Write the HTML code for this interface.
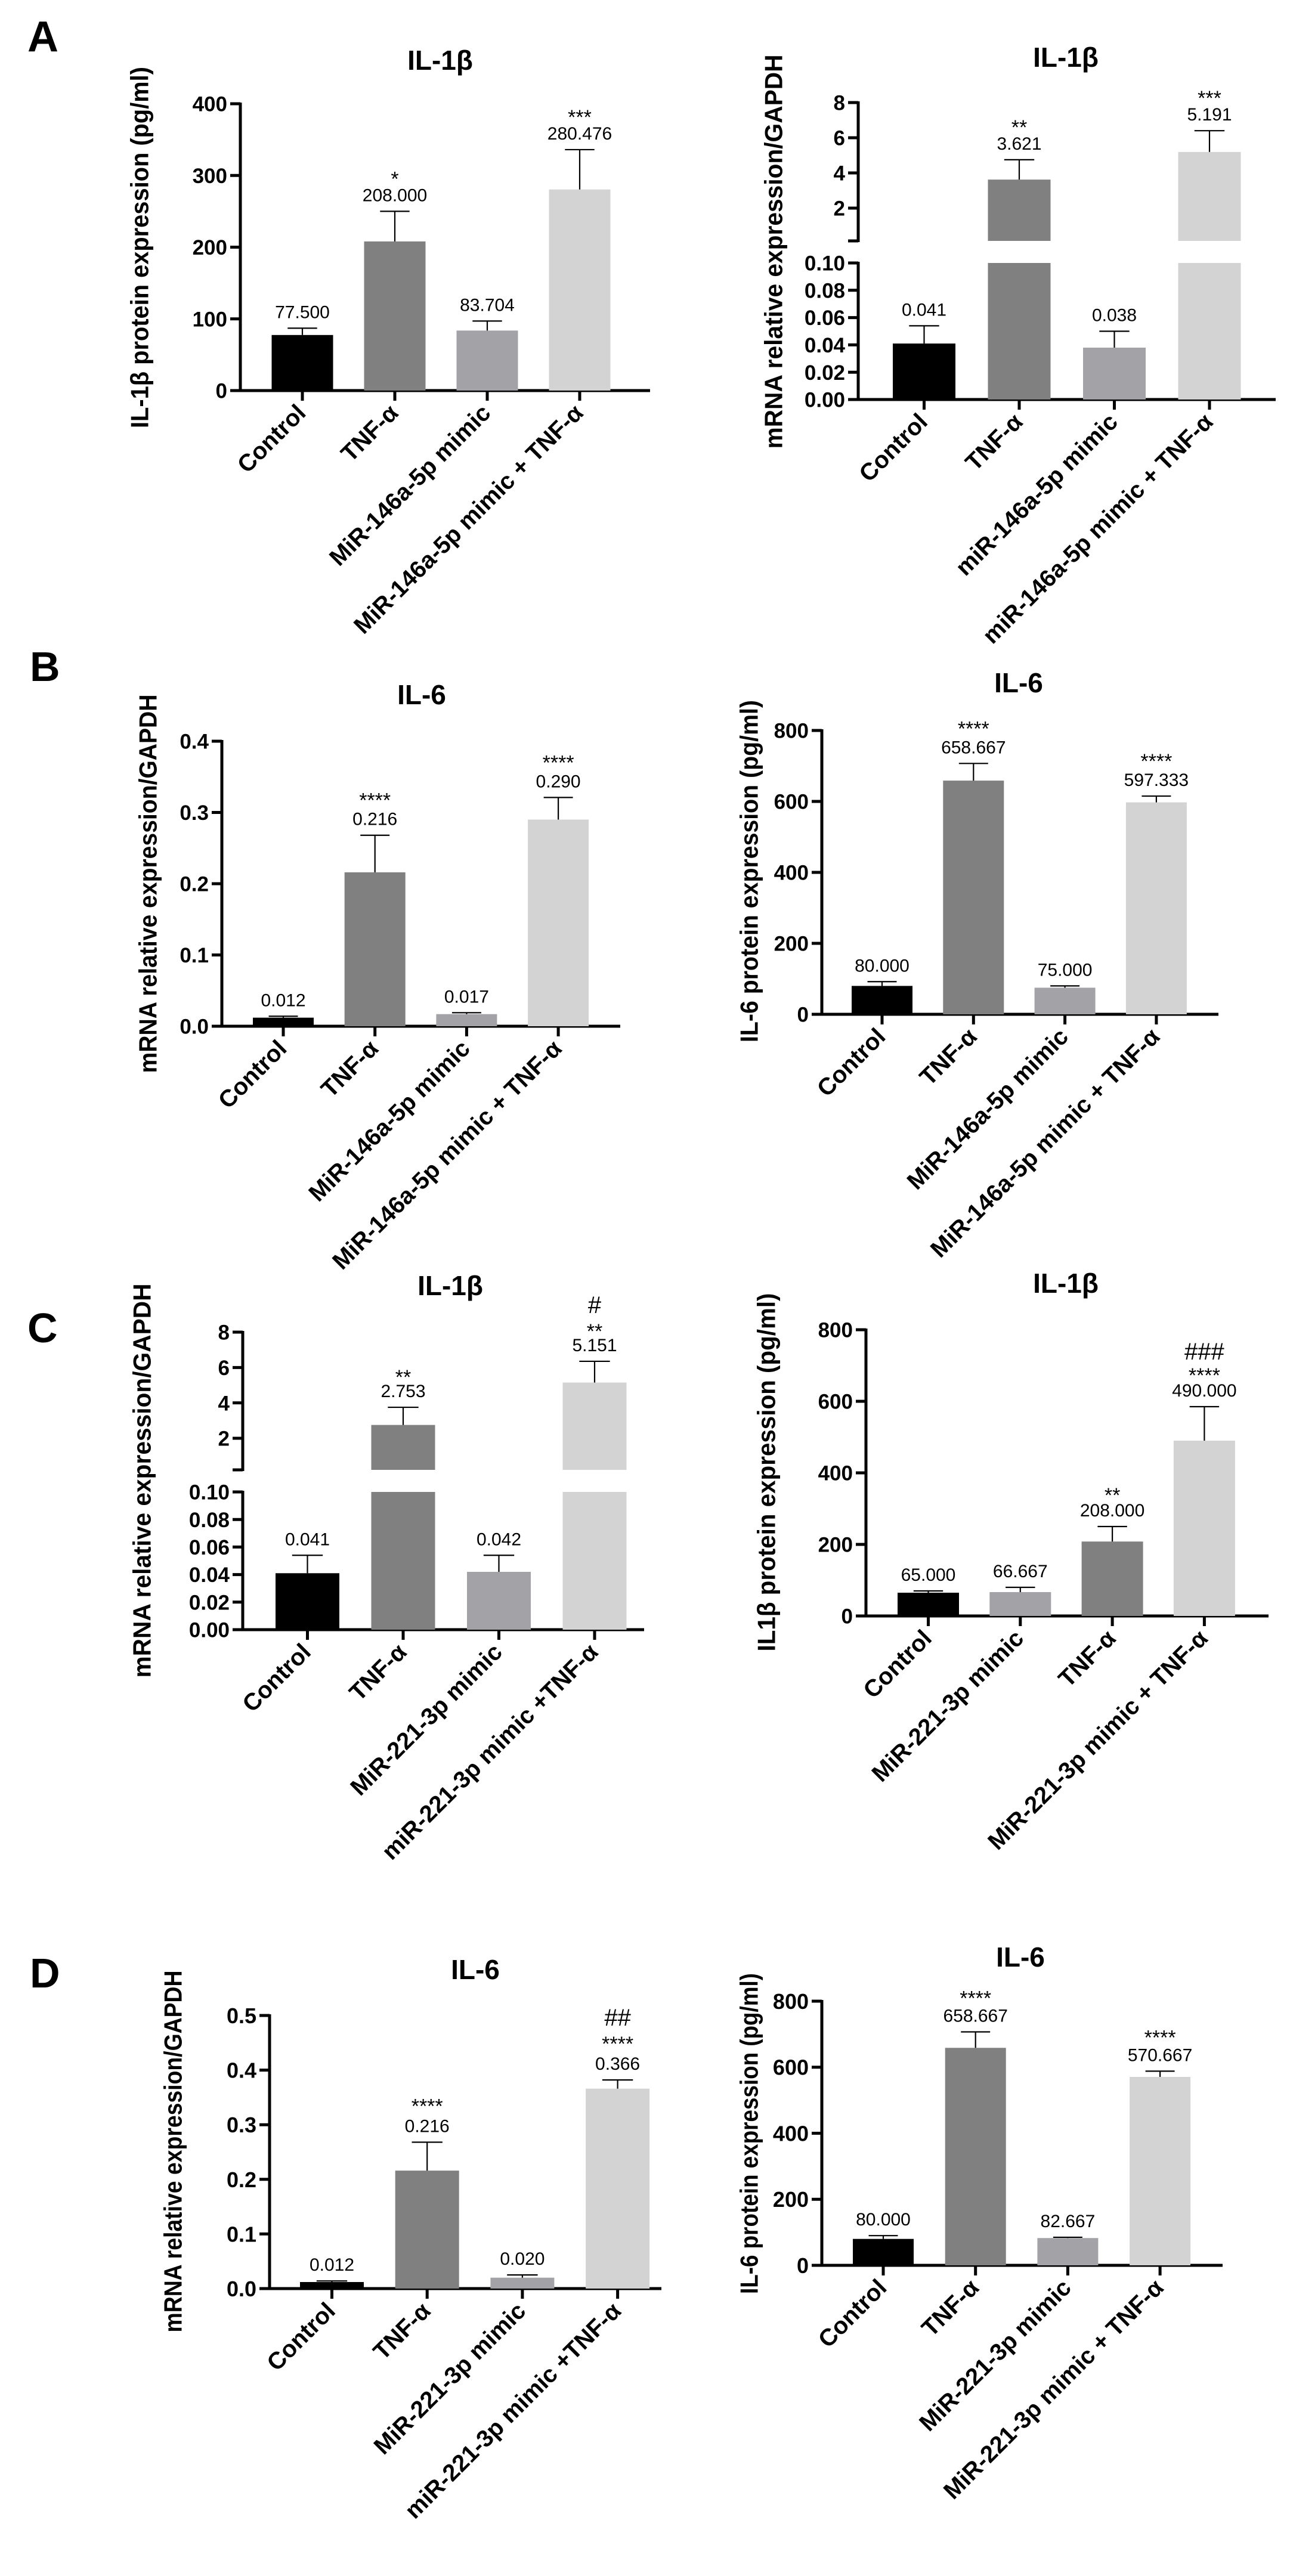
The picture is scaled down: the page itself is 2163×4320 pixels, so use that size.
<!DOCTYPE html>
<html><head><meta charset="utf-8">
<style>
html,body{margin:0;padding:0;background:#fff;}
svg{display:block;font-family:"Liberation Sans",Arial,sans-serif;}
</style></head>
<body>
<svg id="fig" width="2163" height="4320" viewBox="0 0 2163 4320" xmlns="http://www.w3.org/2000/svg">
<rect x="0" y="0" width="2163" height="4320" fill="#fff"/>
<text x="46" y="86" font-size="72" font-weight="bold">A</text>
<text x="50" y="1142" font-size="70" font-weight="bold">B</text>
<text x="46" y="2251" font-size="70" font-weight="bold">C</text>
<text x="50" y="3333" font-size="70" font-weight="bold">D</text>
</svg>
<script>
// ---------- DATA ----------
const aLeftCats = ["Control","TNF-α","MiR-146a-5p mimic","MiR-146a-5p mimic + TNF-α"];
const aLeftValues = [77.5, 208.0, 83.704, 280.476];
const aLeftErr = [87, 250, 97, 336];
const aLeftLabels = ["77.500","208.000","83.704","280.476"];
const aLeftStars = ["","*","","***"];
const aLeftHash = ["","","",""];
const aLeftTicks = [0,100,200,300,400];
const aLeftTickLabels = ["0","100","200","300","400"];

const aRightCats = ["Control","TNF-α","miR-146a-5p mimic","miR-146a-5p mimic + TNF-α"];
const aRightValues = [0.041, 3.621, 0.038, 5.191];
const aRightErr = [0.054, 4.75, 0.050, 6.4];
const aRightLabels = ["0.041","3.621","0.038","5.191"];
const aRightStars = ["","**","","***"];
const aRightHash = ["","","",""];
const aRightLowTicks = [0,0.02,0.04,0.06,0.08,0.10];
const aRightLowTickLabels = ["0.00","0.02","0.04","0.06","0.08","0.10"];
const aRightHighTicks = [2,4,6,8];
const aRightHighTickLabels = ["2","4","6","8"];

const bLeftCats = ["Control","TNF-α","MiR-146a-5p mimic","MiR-146a-5p mimic + TNF-α"];
const bLeftValues = [0.012, 0.216, 0.017, 0.290];
const bLeftErr = [0.014, 0.268, 0.019, 0.321];
const bLeftLabels = ["0.012","0.216","0.017","0.290"];
const bLeftStars = ["","****","","****"];
const bLeftHash = ["","","",""];
const bLeftTicks = [0,0.1,0.2,0.3,0.4];
const bLeftTickLabels = ["0.0","0.1","0.2","0.3","0.4"];

const bRightCats = ["Control","TNF-α","MiR-146a-5p mimic","MiR-146a-5p mimic + TNF-α"];
const bRightValues = [80, 658.667, 75, 597.333];
const bRightErr = [92, 707, 80, 615];
const bRightLabels = ["80.000","658.667","75.000","597.333"];
const bRightStars = ["","****","","****"];
const bRightHash = ["","","",""];
const bRightTicks = [0,200,400,600,800];
const bRightTickLabels = ["0","200","400","600","800"];

const cLeftCats = ["Control","TNF-α","MiR-221-3p mimic","miR-221-3p mimic +TNF-α"];
const cLeftValues = [0.041, 2.753, 0.042, 5.151];
const cLeftErr = [0.054, 3.75, 0.054, 6.35];
const cLeftLabels = ["0.041","2.753","0.042","5.151"];
const cLeftStars = ["","**","","**"];
const cLeftHash = ["","","","#"];
const cLeftLowTicks = [0,0.02,0.04,0.06,0.08,0.10];
const cLeftLowTickLabels = ["0.00","0.02","0.04","0.06","0.08","0.10"];
const cLeftHighTicks = [2,4,6,8];
const cLeftHighTickLabels = ["2","4","6","8"];

const cRightCats = ["Control","MiR-221-3p mimic","TNF-α","MiR-221-3p mimic + TNF-α"];
const cRightValues = [65, 66.667, 208, 490];
const cRightErr = [70, 80, 250, 585];
const cRightLabels = ["65.000","66.667","208.000","490.000"];
const cRightStars = ["","","**","****"];
const cRightHash = ["","","","###"];
const cRightTicks = [0,200,400,600,800];
const cRightTickLabels = ["0","200","400","600","800"];

const dLeftCats = ["Control","TNF-α","MiR-221-3p mimic","miR-221-3p mimic +TNF-α"];
const dLeftValues = [0.012, 0.216, 0.020, 0.366];
const dLeftErr = [0.014, 0.268, 0.025, 0.382];
const dLeftLabels = ["0.012","0.216","0.020","0.366"];
const dLeftStars = ["","****","","****"];
const dLeftHash = ["","","","##"];
const dLeftTicks = [0,0.1,0.2,0.3,0.4,0.5];
const dLeftTickLabels = ["0.0","0.1","0.2","0.3","0.4","0.5"];

const dRightCats = ["Control","TNF-α","MiR-221-3p mimic","MiR-221-3p mimic + TNF-α"];
const dRightValues = [80, 658.667, 82.667, 570.667];
const dRightErr = [90, 707, 85, 588];
const dRightLabels = ["80.000","658.667","82.667","570.667"];
const dRightStars = ["","****","","****"];
const dRightHash = ["","","",""];
const dRightTicks = [0,200,400,600,800];
const dRightTickLabels = ["0","200","400","600","800"];

const barColors = ["#000000","#808080","#a3a3a7","#d3d3d3"];
const cRightColors = ["#000000","#a3a3a7","#808080","#d3d3d3"];

// ---------- RENDER ----------
const NS = "http://www.w3.org/2000/svg";
const svg = document.getElementById("fig");
function mk(tag, attrs, parent){
  const e = document.createElementNS(NS, tag);
  for (const k in attrs) e.setAttribute(k, attrs[k]);
  (parent||svg).appendChild(e);
  return e;
}
function line(g,x1,y1,x2,y2,w){ return mk("line",{x1,y1,x2,y2,stroke:"#000","stroke-width":w},g); }

function drawPanel(p){
  const g = mk("g",{});
  
  
  const yLin = v => p.y0 - v/p.max*(p.y0 - p.yMaxPx);
  const yLow = v => p.y0 - v/0.1*(p.y0 - p.lowTopPx);
  const yHigh = v => p.h2Px - (v-2)/6*(p.h2Px - p.h8Px);
  const cx = i => p.c0 + i*p.step;
  const t = mk("text",{x:p.titleX,y:p.titleY,"font-size":46,"font-weight":"bold","text-anchor":"middle"},g);
  t.textContent = p.title;
  
  
  const yt = mk("text",{x:p.ytX,y:p.ytY,"font-size":p.ytFs||42,"font-weight":"bold","text-anchor":"middle","dominant-baseline":"central",transform:`rotate(-90 ${p.ytX} ${p.ytY})`,textLength:p.ytLen,lengthAdjust:"spacingAndGlyphs"},g);
  yt.textContent = p.ytitle;
  
  
  const tickFs = p.tickFs || 35, tickLen = 17;
  function yTick(y,label){
    line(g,p.axisX-tickLen,y,p.axisX,y,5);
    if(label!==null){
      const tl = mk("text",{x:p.axisX-tickLen-5,y:y+tickFs*0.36,"font-size":tickFs,"font-weight":"bold","text-anchor":"end"},g);
      tl.textContent = label;
      
      
    }
  }
  let yVal;
  if(!p.broken){
    line(g,p.axisX,p.yMaxPx-2,p.axisX,p.y0+2.5,5);
    p.ticks.forEach((v,i)=>yTick(yLin(v),p.tickLabels[i]));
    yVal = yLin;
  } else {
    line(g,p.axisX,p.lowTopPx-2,p.axisX,p.y0+2.5,5);
    p.lowTicks.forEach((v,i)=>yTick(yLow(v),p.lowTickLabels[i]));
    line(g,p.axisX,p.h8Px-2,p.axisX,p.segBot+2,5);
    p.highTicks.forEach((v,i)=>yTick(yHigh(v),p.highTickLabels[i]));
    yTick(p.segBot,null);
    yVal = v => v<=0.1 ? yLow(v) : yHigh(v);
  }
  line(g,p.axisX-2.5,p.y0,p.axisEnd,p.y0,5);
  p.values.forEach((v,i)=>{
    const x = cx(i);
    const col = p.colors[i];
    if(!p.broken || v<=0.1){
      const b = mk("rect",{x:x-p.bw/2,y:yVal(v),width:p.bw,height:p.y0-yVal(v),fill:col},g);
      
      
    } else {
      const b1 = mk("rect",{x:x-p.bw/2,y:p.lowTopPx,width:p.bw,height:p.y0-p.lowTopPx,fill:col},g);
      
      
      const b2 = mk("rect",{x:x-p.bw/2,y:yHigh(v),width:p.bw,height:p.segBot-yHigh(v),fill:col},g);
      
      
    }
    const ey = yVal(p.err[i]), vy = yVal(v);
    line(g,x,vy,x,ey,2.2);
    line(g,x-p.bw*0.24,ey,x+p.bw*0.24,ey,2.2);
    line(g,x,p.y0,x,p.y0+tickLen,5);
    const vb = ey - 17;
    const vl = mk("text",{x:x,y:vb,"font-size":30,"text-anchor":"middle"},g);
    vl.textContent = p.labels[i];
    
    
    let sb = vb - 8;
    if(p.stars[i]){
      sb = vb - (p.starGap||26);
      const s = mk("text",{x:x,y:sb,"font-size":34,"text-anchor":"middle"},g);
      s.textContent = p.stars[i];
      
      
    }
    if(p.hash[i]){
      const h = mk("text",{x:x,y:sb-(p.hashGap||40),"font-size":40,"text-anchor":"middle"},g);
      h.textContent = p.hash[i];
      
      
    }
    const lx = x+8, ly = p.y0+40;
    const xl = mk("text",{x:lx,y:ly,"font-size":p.xFs||40,"font-weight":"bold","text-anchor":"end",transform:`rotate(-45 ${lx} ${ly})`},g);
    xl.textContent = p.cats[i];
    
    
  });
}

drawPanel({name:"chart-a-left",title:"IL-1β",titleX:738,titleY:117,ytitle:"IL-1β protein expression (pg/ml)",ytX:234,ytY:415,ytLen:606,
  axisX:403,y0:655,yMaxPx:174,max:400,ticks:aLeftTicks,tickLabels:aLeftTickLabels,c0:507,step:155,bw:103,axisEnd:1090,
  cats:aLeftCats,values:aLeftValues,err:aLeftErr,labels:aLeftLabels,stars:aLeftStars,hash:aLeftHash,colors:barColors});
drawPanel({name:"chart-a-right",title:"IL-1β",titleX:1787,titleY:112,ytitle:"mRNA relative expression/GAPDH",ytX:1297,ytY:422,ytLen:661,
  broken:true,axisX:1439,y0:670,lowTopPx:441,h8Px:172,h2Px:349,segBot:404,
  lowTicks:aRightLowTicks,lowTickLabels:aRightLowTickLabels,highTicks:aRightHighTicks,highTickLabels:aRightHighTickLabels,
  c0:1549.5,step:159.5,bw:105,axisEnd:2139,
  cats:aRightCats,values:aRightValues,err:aRightErr,labels:aRightLabels,stars:aRightStars,hash:aRightHash,colors:barColors});
drawPanel({name:"chart-b-left",title:"IL-6",titleX:707,titleY:1181,ytitle:"mRNA relative expression/GAPDH",ytX:248,ytY:1482,ytLen:635,
  axisX:372,y0:1721,yMaxPx:1243,max:0.4,ticks:bLeftTicks,tickLabels:bLeftTickLabels,c0:475,step:153.7,bw:102,axisEnd:1040,starGap:30,
  cats:bLeftCats,values:bLeftValues,err:bLeftErr,labels:bLeftLabels,stars:bLeftStars,hash:bLeftHash,colors:barColors});
drawPanel({name:"chart-b-right",title:"IL-6",titleX:1708,titleY:1161,ytitle:"IL-6 protein expression (pg/ml)",ytX:1256,ytY:1461,ytLen:574,
  axisX:1378,y0:1701,yMaxPx:1225,max:800,ticks:bRightTicks,tickLabels:bRightTickLabels,c0:1479,step:153.3,bw:102,axisEnd:2043,starGap:30,
  cats:bRightCats,values:bRightValues,err:bRightErr,labels:bRightLabels,stars:bRightStars,hash:bRightHash,colors:barColors});
drawPanel({name:"chart-c-left",title:"IL-1β",titleX:755,titleY:2172,ytitle:"mRNA relative expression/GAPDH",ytX:238,ytY:2483,ytLen:661,
  broken:true,axisX:407,y0:2733,lowTopPx:2502,h8Px:2234,h2Px:2412,segBot:2465,
  lowTicks:cLeftLowTicks,lowTickLabels:cLeftLowTickLabels,highTicks:cLeftHighTicks,highTickLabels:cLeftHighTickLabels,
  c0:515.5,step:160.5,bw:107,axisEnd:1080,starGap:22,hashGap:42,
  cats:cLeftCats,values:cLeftValues,err:cLeftErr,labels:cLeftLabels,stars:cLeftStars,hash:cLeftHash,colors:barColors});
drawPanel({name:"chart-c-right",title:"IL-1β",titleX:1787,titleY:2168,ytitle:"IL1β protein expression (pg/ml)",ytX:1285,ytY:2469,ytLen:601,
  axisX:1452,y0:2710,yMaxPx:2230,max:800,ticks:cRightTicks,tickLabels:cRightTickLabels,c0:1556.5,step:154.3,bw:103,axisEnd:2127,starGap:24,hashGap:38,
  cats:cRightCats,values:cRightValues,err:cRightErr,labels:cRightLabels,stars:cRightStars,hash:cRightHash,colors:cRightColors});
drawPanel({name:"chart-d-left",title:"IL-6",titleX:797,titleY:3319,ytitle:"mRNA relative expression/GAPDH",ytX:290,ytY:3608,ytLen:607,
  axisX:452,y0:3838,yMaxPx:3380,max:0.5,ticks:dLeftTicks,tickLabels:dLeftTickLabels,c0:556.5,step:159.7,bw:107,axisEnd:1109,starGap:32,hashGap:42,tickFs:36,
  cats:dLeftCats,values:dLeftValues,err:dLeftErr,labels:dLeftLabels,stars:dLeftStars,hash:dLeftHash,colors:barColors});
drawPanel({name:"chart-d-right",title:"IL-6",titleX:1711,titleY:3298,ytitle:"IL-6 protein expression (pg/ml)",ytX:1256,ytY:3578,ytLen:538,
  axisX:1378,y0:3799,yMaxPx:3356,max:800,ticks:dRightTicks,tickLabels:dRightTickLabels,c0:1481,step:154.7,bw:102,axisEnd:2050,starGap:28,tickFs:36,
  cats:dRightCats,values:dRightValues,err:dRightErr,labels:dRightLabels,stars:dRightStars,hash:dRightHash,colors:barColors});
</script>
</body></html>
